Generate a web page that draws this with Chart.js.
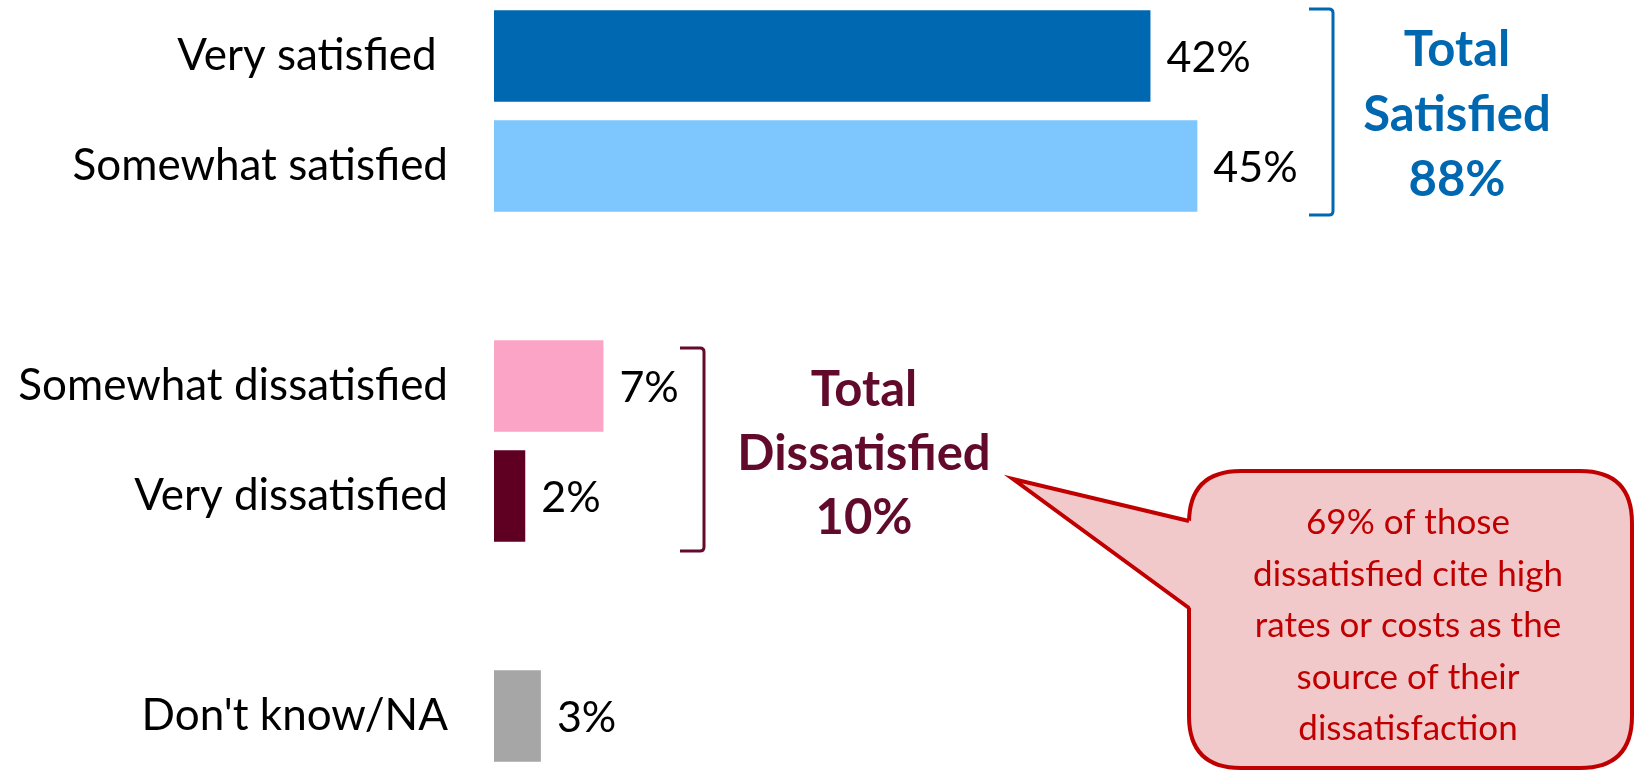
<!DOCTYPE html>
<html>
<head>
<meta charset="utf-8">
<script src="https://cdn.jsdelivr.net/npm/chart.js@4"></script>
<style>
  html, body { margin: 0; padding: 0; background: #fff; }
  #wrap { width: 1635px; height: 771px; position: relative; }
</style>
</head>
<body>
<div id="wrap"><canvas id="satChart" width="1635" height="771"></canvas></div>
<script>
const categories = ["Very satisfied ", "Somewhat satisfied", "", "Somewhat dissatisfied", "Very dissatisfied", "", "Don't know/NA"];
const values = [42, 45, null, 7, 2, null, 3];
const barColors = ["#0068b1", "#7dc6fe", "#fff", "#fba4c6", "#5f0023", "#fff", "#a6a6a6"];
const totalSatisfied = ["Total", "Satisfied", "88%"];
const totalDissatisfied = ["Total", "Dissatisfied", "10%"];
const calloutLines = ["69% of those", "dissatisfied cite high", "rates or costs as the", "source of their", "dissatisfaction"];

const FONT = "Lato, 'Open Sans', sans-serif";

function roundRect(ctx, x, y, w, h, r) {
    ctx.beginPath();
    ctx.moveTo(x + r, y);
    ctx.lineTo(x + w - r, y);
    ctx.quadraticCurveTo(x + w, y, x + w, y + r);
    ctx.lineTo(x + w, y + h - r);
    ctx.quadraticCurveTo(x + w, y + h, x + w - r, y + h);
    ctx.lineTo(x + r, y + h);
    ctx.quadraticCurveTo(x, y + h, x, y + h - r);
    ctx.lineTo(x, y + r);
    ctx.quadraticCurveTo(x, y, x + r, y);
    ctx.closePath();
}

function drawBracket(ctx, x, top, bottom, arm, color) {
    ctx.save();
    ctx.strokeStyle = color;
    ctx.lineWidth = 3;
    ctx.beginPath();
    ctx.moveTo(x - arm, top);
    ctx.lineTo(x - 4, top);
    ctx.quadraticCurveTo(x, top, x, top + 4);
    ctx.lineTo(x, bottom - 4);
    ctx.quadraticCurveTo(x, bottom, x - 4, bottom);
    ctx.lineTo(x - arm, bottom);
    ctx.stroke();
    ctx.restore();
}

const extras = {
    id: "extras",
    afterDatasetsDraw(chart) {
        const ctx = chart.ctx;
        const meta = chart.getDatasetMeta(0);
        const yScale = chart.scales.y;

        // value labels
        ctx.save();
        ctx.font = "43px " + FONT;
        ctx.fillStyle = "#000";
        ctx.textBaseline = "middle";
        ctx.textAlign = "left";
        meta.data.forEach((bar, i) => {
            if (values[i] === null) return;
            ctx.fillText(values[i] + "%", bar.x + 16, bar.y + 2);
        });
        ctx.restore();

        // brackets
        const half = (yScale.getPixelForValue(1) - yScale.getPixelForValue(0)) / 2;
        drawBracket(ctx, 1333, yScale.getPixelForValue(0) - half + 8, yScale.getPixelForValue(1) + half - 6, 24, "#0068b1");
        drawBracket(ctx, 704, yScale.getPixelForValue(3) - half + 17, yScale.getPixelForValue(4) + half, 24, "#650a2d");

        // totals
        ctx.save();
        ctx.font = "bold 49px " + FONT;
        ctx.textAlign = "center";
        ctx.textBaseline = "middle";
        ctx.fillStyle = "#0068b1";
        totalSatisfied.forEach((t, i) => ctx.fillText(t, 1457, 50 + i * 65));
        ctx.fillStyle = "#620a2c";
        totalDissatisfied.forEach((t, i) => ctx.fillText(t, 864, 390 + i * 64));
        ctx.restore();

        // callout
        ctx.save();
        const bx = 1189, by = 471, bw = 443, bh = 297, r = 52;
        ctx.lineWidth = 4;
        ctx.strokeStyle = "#c00000";
        ctx.fillStyle = "#f2c9cb";
        roundRect(ctx, bx, by, bw, bh, r);
        ctx.fill();
        ctx.stroke();
        ctx.beginPath();
        ctx.moveTo(bx + 2, 521);
        ctx.lineTo(1013, 479);
        ctx.lineTo(bx + 2, 608);
        ctx.closePath();
        ctx.fill();
        ctx.beginPath();
        ctx.moveTo(bx, 521);
        ctx.lineTo(1013, 479);
        ctx.lineTo(bx, 608);
        ctx.stroke();
        ctx.fillStyle = "#c00000";
        ctx.font = "35px " + FONT;
        ctx.textAlign = "center";
        ctx.textBaseline = "middle";
        calloutLines.forEach((t, i) => ctx.fillText(t, 1408, 523 + i * 51.5));
        ctx.restore();
    }
};

document.addEventListener("DOMContentLoaded", () => {
    const ctx = document.getElementById("satChart").getContext("2d");
    new Chart(ctx, {
        type: "bar",
        data: {
            labels: categories,
            datasets: [{
                data: values,
                backgroundColor: barColors,
                borderWidth: 0,
                barPercentage: 0.83,
                categoryPercentage: 1.0
            }]
        },
        options: {
            indexAxis: "y",
            responsive: false,
            animation: false,
            layout: { padding: { top: 1, bottom: -3 } },
            plugins: {
                legend: { display: false },
                tooltip: { enabled: false }
            },
            scales: {
                x: {
                    display: false,
                    min: 0,
                    max: 73
                },
                y: {
                    grid: { display: false, drawTicks: false },
                    border: { display: false },
                    ticks: {
                        padding: 46,
                        color: "#000",
                        font: { family: FONT, size: 44 }
                    },
                    afterFit(scale) {
                        scale.width = 494;
                        scale.paddingTop = 0;
                        scale.paddingBottom = 0;
                    }
                }
            }
        },
        plugins: [extras]
    });
});
</script>
</body>
</html>
